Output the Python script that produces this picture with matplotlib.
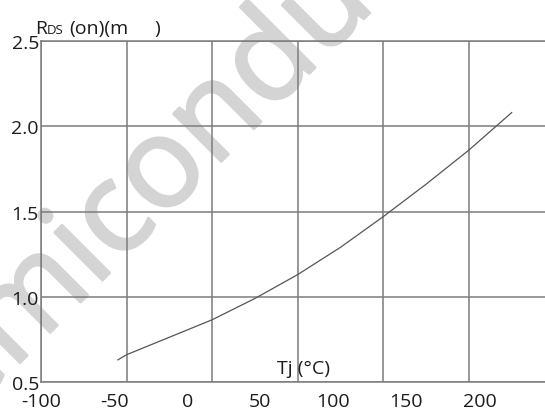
import numpy as np
import matplotlib
matplotlib.use("Agg")
import matplotlib.pyplot as plt
import matplotlib.patheffects as pe
from matplotlib.font_manager import FontProperties
from matplotlib.textpath import TextPath

# Normalized on-resistance vs junction temperature
tj = [-55, -50, 0, 25, 50, 75, 100, 125, 150, 175]
rds_on = [0.63, 0.66, 0.865, 0.99, 1.13, 1.29, 1.47, 1.66, 1.86, 2.08]

grid_x = [-100, -50, 0, 50, 100, 150, 200, 250]
grid_y = [0.5, 1.0, 1.5, 2.0, 2.5]
y_labels = ["0.5", "1.0", "1.5", "2.0", "2.5"]
x_label_values = [-100, -50, 0, 50, 100, 150, 200]
x_labels = ["-100", "-50", "0", "50", "100", "150", "200"]

W, H = 545, 410
FONT = "Open Sans"
GRID = "#7c7c7c"
TEXT = "#1c1c1c"

fig = plt.figure(figsize=(W / 100, H / 100), dpi=100)


def fx(px):
    return px / W


def fy(py):
    return 1 - py / H


left, right, top, bottom = 41, 640, 42, 383
ax = fig.add_axes([fx(left), fy(bottom), fx(right - left), fy(top) - fy(bottom)])
ax.patch.set_alpha(0)

ax.set_xlim(-100, 250)
ax.set_ylim(0.5, 2.5)
ax.set_xticks(grid_x)
ax.set_yticks(grid_y)
ax.set_yticklabels(y_labels, fontfamily=FONT, fontsize=14, color=TEXT)
ax.tick_params(axis="x", length=0, labelbottom=False)
ax.tick_params(axis="y", length=0, pad=1.5)
ax.grid(True, color=GRID, linewidth=1.1)
for side in ("left", "bottom", "top"):
    ax.spines[side].set_color(GRID)
    ax.spines[side].set_linewidth(1.1)
ax.spines["right"].set_visible(False)


# bottom scale labels are laid out on their own spacing
def to_label(t):
    return -100 + (t + 100) * 1.1711


def from_label(v):
    return (v + 100) / 1.1711 - 100


sec = ax.secondary_xaxis("bottom", functions=(to_label, from_label))
sec.set_xticks(x_label_values, x_labels, fontfamily=FONT, fontsize=14, color=TEXT)
sec.tick_params(length=0, pad=7)
sec.spines["bottom"].set_visible(False)

ax.plot(tj, rds_on, color="#555555", linewidth=0.9, zorder=3)

# axis captions
fig.text(fx(35), fy(34), "R", fontfamily=FONT, fontsize=14, color=TEXT, va="baseline")
fig.text(fx(47), fy(34), "DS", fontfamily=FONT, fontsize=9.5, color=TEXT, va="baseline")
fig.text(fx(69), fy(34), "(on)(m", fontfamily=FONT, fontsize=14, color=TEXT, va="baseline")
fig.text(fx(154), fy(34), ")", fontfamily=FONT, fontsize=14, color=TEXT, va="baseline")
fig.text(fx(277), fy(374), "Tj (°C)", fontfamily=FONT, fontsize=14, color=TEXT, va="baseline")

# watermark, placed so the first "c" sits at a given pixel spot
wm_text = "Semiconductor"
wm_color = "#d4d4d4"
wm_px = 126.0  # font size in pixels
wm_prop = FontProperties(family=FONT, weight="normal")
w_pre = TextPath((0, 0), "Semi", size=wm_px, prop=wm_prop).get_extents().x1
w_c = TextPath((0, 0), "Semic", size=wm_px, prop=wm_prop).get_extents().x1
x_h = TextPath((0, 0), "x", size=wm_px, prop=wm_prop).get_extents().y1
along = (w_pre + w_c) / 2
ang = np.deg2rad(45)
d = np.array([np.cos(ang), np.sin(ang)])      # baseline direction (y up)
u = np.array([-np.sin(ang), np.cos(ang)])     # glyph up direction
c_center = np.array([110.0, H - 226.0])
start = c_center - along * d - (x_h / 2) * u
fig.text(start[0] / W, start[1] / H, wm_text, fontproperties=wm_prop,
         fontsize=wm_px * 72 / 100, color=wm_color, rotation=45,
         rotation_mode="anchor", ha="left", va="baseline", zorder=-1,
         path_effects=[pe.withStroke(linewidth=2.0, foreground=wm_color)])

fig.savefig("out.png", dpi=100)
